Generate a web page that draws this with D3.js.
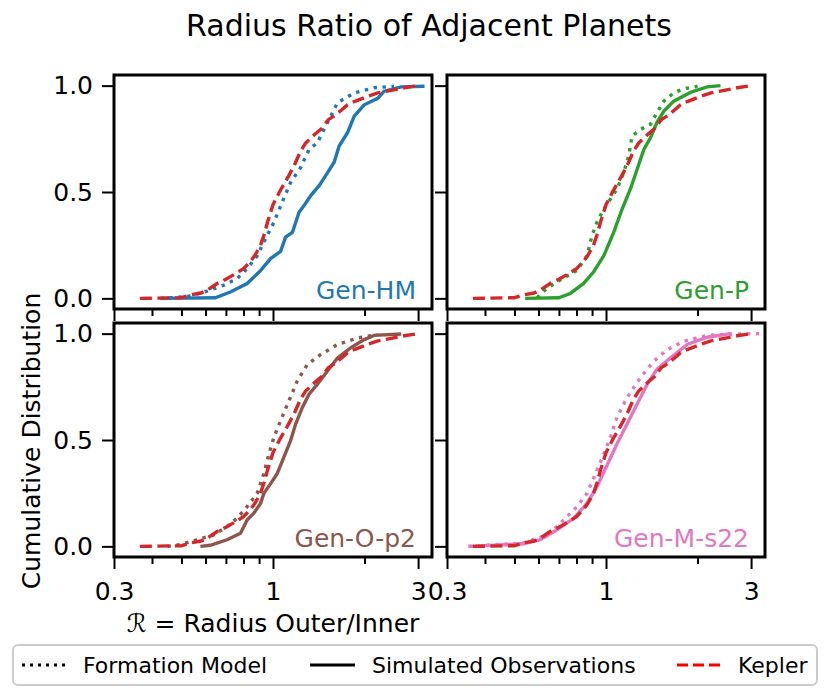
<!DOCTYPE html>
<html>
<head>
<meta charset="utf-8">
<script src="https://cdn.jsdelivr.net/npm/d3@7"></script>
<style>
  body { margin: 0; background: #fff; }
  svg { font-family: "DejaVu Sans", sans-serif; }
</style>
</head>
<body>
<div id="chart"></div>
<script>
// values (CDF of R = radius outer/inner)
const keplerX = [0.365, 0.50, 0.535, 0.58, 0.61, 0.655, 0.70, 0.745, 0.80, 0.845, 0.87, 0.91, 0.935, 0.96, 1.00, 1.05, 1.09, 1.12, 1.17, 1.23, 1.28, 1.37, 1.45, 1.52, 1.60, 1.76, 1.85, 2.05, 2.20, 2.45, 2.70, 3.00];
const keplerY = [0.0, 0.003, 0.016, 0.025, 0.04, 0.07, 0.09, 0.112, 0.14, 0.175, 0.20, 0.25, 0.30, 0.36, 0.44, 0.50, 0.54, 0.57, 0.62, 0.69, 0.73, 0.77, 0.80, 0.84, 0.86, 0.91, 0.925, 0.95, 0.965, 0.978, 0.99, 1.0];

const hmModelX = [0.426, 0.521, 0.606, 0.689, 0.762, 0.822, 0.887, 0.933, 1.007, 1.072, 1.143, 1.233, 1.314, 1.40, 1.51, 1.63, 1.85, 2.15, 2.50];
const hmModelY = [0.0, 0.008, 0.034, 0.062, 0.093, 0.14, 0.20, 0.265, 0.358, 0.452, 0.545, 0.615, 0.70, 0.732, 0.826, 0.92, 0.966, 0.99, 0.997];
const hmSimX = [0.426, 0.646, 0.724, 0.822, 0.91, 0.982, 1.059, 1.10, 1.158, 1.218, 1.265, 1.331, 1.418, 1.51, 1.589, 1.65, 1.76, 1.85, 1.995, 2.21, 2.32, 2.64, 3.15];
const hmSimY = [0.0, 0.003, 0.03, 0.07, 0.13, 0.187, 0.221, 0.288, 0.31, 0.405, 0.436, 0.483, 0.53, 0.59, 0.64, 0.716, 0.78, 0.857, 0.91, 0.94, 0.974, 0.994, 0.997];

const pModelX = [0.593, 0.639, 0.707, 0.803, 0.866, 0.90, 0.934, 0.983, 1.034, 1.087, 1.144, 1.188, 1.218, 1.298, 1.40, 1.47, 1.55, 1.67, 1.80, 2.00];
const pModelY = [0.003, 0.047, 0.086, 0.132, 0.20, 0.296, 0.358, 0.42, 0.467, 0.514, 0.592, 0.67, 0.763, 0.794, 0.818, 0.872, 0.927, 0.966, 0.985, 0.997];
const pSimX = [0.542, 0.699, 0.763, 0.844, 0.911, 0.983, 1.06, 1.13, 1.203, 1.266, 1.332, 1.40, 1.47, 1.55, 1.67, 1.90, 2.15, 2.38];
const pSimY = [0.0, 0.003, 0.023, 0.07, 0.125, 0.20, 0.31, 0.42, 0.514, 0.607, 0.70, 0.755, 0.826, 0.88, 0.927, 0.969, 0.994, 1.0];

const oModelX = [0.45, 0.495, 0.562, 0.638, 0.706, 0.762, 0.822, 0.887, 0.933, 0.97, 1.007, 1.059, 1.128, 1.202, 1.297, 1.436, 1.63, 1.90, 2.21];
const oModelY = [0.0, 0.008, 0.031, 0.054, 0.093, 0.132, 0.187, 0.249, 0.342, 0.435, 0.513, 0.591, 0.684, 0.778, 0.855, 0.902, 0.949, 0.98, 0.995];
const oSimX = [0.577, 0.622, 0.706, 0.782, 0.822, 0.865, 0.91, 0.933, 0.982, 1.032, 1.086, 1.143, 1.187, 1.249, 1.314, 1.40, 1.51, 1.63, 1.80, 1.995, 2.15, 2.64];
const oSimY = [0.0, 0.005, 0.031, 0.062, 0.124, 0.156, 0.202, 0.249, 0.295, 0.342, 0.42, 0.498, 0.575, 0.653, 0.715, 0.762, 0.824, 0.886, 0.933, 0.972, 0.992, 0.998];

const mModelX = [0.353, 0.535, 0.623, 0.69, 0.803, 0.866, 0.934, 0.983, 1.034, 1.087, 1.173, 1.298, 1.436, 1.59, 1.80, 2.15, 2.57, 3.23];
const mModelY = [0.0, 0.016, 0.047, 0.093, 0.187, 0.249, 0.358, 0.435, 0.513, 0.607, 0.70, 0.793, 0.871, 0.925, 0.964, 0.992, 0.998, 1.0];
const mSimX = [0.353, 0.535, 0.608, 0.69, 0.783, 0.866, 0.934, 1.008, 1.087, 1.173, 1.266, 1.366, 1.47, 1.63, 1.85, 2.15, 2.57];
const mSimY = [0.0, 0.012, 0.031, 0.078, 0.132, 0.202, 0.28, 0.381, 0.482, 0.575, 0.669, 0.762, 0.832, 0.886, 0.949, 0.983, 1.0];

const panelNames = ['Gen-HM', 'Gen-P', 'Gen-O-p2', 'Gen-M-s22'];
const panelColors = ['#1f77b4', '#2ca02c', '#8c564b', '#e377c2'];
const xMajor = [0.3, 1, 3];
const xMajorLabels = ['0.3', '1', '3'];
const xMinor = [0.4, 0.5, 0.6, 0.7, 0.8, 0.9, 2];
const yTicks = [0.0, 0.5, 1.0];
const legendLabels = ['Formation Model', 'Simulated Observations', 'Kepler'];

const zip = (xs, ys) => xs.map((v, i) => [v, ys[i]]);
const panels = [
  { model: zip(hmModelX, hmModelY), sim: zip(hmSimX, hmSimY) },
  { model: zip(pModelX, pModelY), sim: zip(pSimX, pSimY) },
  { model: zip(oModelX, oModelY), sim: zip(oSimX, oSimY) },
  { model: zip(mModelX, mModelY), sim: zip(mSimX, mSimY) }
];
const kepler = zip(keplerX, keplerY);

const W = 830, H = 697;
const pw = 318, ph = 234;
const lefts = [114, 447], tops = [75, 323];
const kepColor = '#d62728';
const fs = 25;
const lw = 3.4;

const svg = d3.select('#chart').append('svg')
  .attr('width', W).attr('height', H);

const x = d3.scaleLog().domain([0.3, 10 / 3]).range([0, pw]);
const y = d3.scaleLinear().domain([-0.05, 1.05]).range([ph, 0]);
const line = d3.line().x(d => x(d[0])).y(d => y(d[1]));

panels.forEach((p, i) => {
  const col = i % 2, row = Math.floor(i / 2);
  const g = svg.append('g')
    .attr('transform', `translate(${lefts[col]},${tops[row]})`);

  g.append('clipPath').attr('id', 'clip' + i)
    .append('rect').attr('width', pw).attr('height', ph);

  const curves = g.append('g').attr('clip-path', `url(#clip${i})`)
    .attr('fill', 'none').attr('stroke-width', lw);

  curves.append('path').datum(p.model)
    .attr('d', line)
    .attr('stroke', panelColors[i])
    .attr('stroke-dasharray', '3.4,5.6');
  curves.append('path').datum(p.sim)
    .attr('d', line)
    .attr('stroke', panelColors[i]);
  curves.append('path').datum(kepler)
    .attr('d', line)
    .attr('stroke', kepColor)
    .attr('stroke-dasharray', '12,5.5');

  // x axis ticks
  const xa = g.append('g').attr('transform', `translate(0,${ph})`)
    .call(d3.axisBottom(x).tickValues(xMajor).tickSize(12).tickPadding(13)
      .tickFormat((d, k) => row === 1 ? xMajorLabels[k] : ''));
  const xm = g.append('g').attr('transform', `translate(0,${ph})`)
    .call(d3.axisBottom(x).tickValues(xMinor).tickSize(7).tickFormat(''));

  const ya = g.append('g')
    .call(d3.axisLeft(y).tickValues(yTicks).tickSize(12).tickPadding(9)
      .tickFormat(d => col === 0 ? d3.format('.1f')(d) : ''));

  [xa, xm, ya].forEach(a => {
    a.select('.domain').remove();
    a.selectAll('line').attr('stroke', '#000').attr('stroke-width', 2);
    a.selectAll('text').attr('font-size', fs)
      .attr('font-family', '"DejaVu Sans", sans-serif').attr('fill', '#000');
  });

  g.append('rect').attr('width', pw).attr('height', ph)
    .attr('fill', 'none').attr('stroke', '#000').attr('stroke-width', 3);

  g.append('text')
    .attr('x', pw - 16).attr('y', y(0) + 1)
    .attr('text-anchor', 'end')
    .attr('font-size', fs)
    .attr('fill', panelColors[i])
    .text(panelNames[i]);
});

// title and axis labels
svg.append('text').attr('x', 429).attr('y', 36)
  .attr('text-anchor', 'middle').attr('font-size', 30)
  .text('Radius Ratio of Adjacent Planets');

svg.append('text')
  .attr('transform', 'translate(40,441) rotate(-90)')
  .attr('text-anchor', 'middle').attr('font-size', fs)
  .text('Cumulative Distribution');

svg.append('text').attr('x', 273).attr('y', 632)
  .attr('text-anchor', 'middle').attr('font-size', fs)
  .text('ℛ = Radius Outer/Inner');

// legend
const leg = svg.append('g');
leg.append('rect').attr('x', 13).attr('y', 645).attr('width', 804).attr('height', 40)
  .attr('rx', 5).attr('fill', '#fff').attr('stroke', '#cccccc').attr('stroke-width', 2);

const legX = [22, 310, 677];
const legTextX = [83, 372, 738];
const legStyles = [
  { color: '#000', dash: '3,5' },
  { color: '#000', dash: null },
  { color: '#ff0000', dash: '11,5' }
];
legendLabels.forEach((lab, k) => {
  leg.append('line')
    .attr('x1', legX[k]).attr('x2', legX[k] + 45)
    .attr('y1', 665).attr('y2', 665)
    .attr('stroke', legStyles[k].color).attr('stroke-width', 3)
    .attr('stroke-dasharray', legStyles[k].dash);
  leg.append('text').attr('x', legTextX[k]).attr('y', 673)
    .attr('font-size', 22).text(lab);
});
</script>
</body>
</html>
